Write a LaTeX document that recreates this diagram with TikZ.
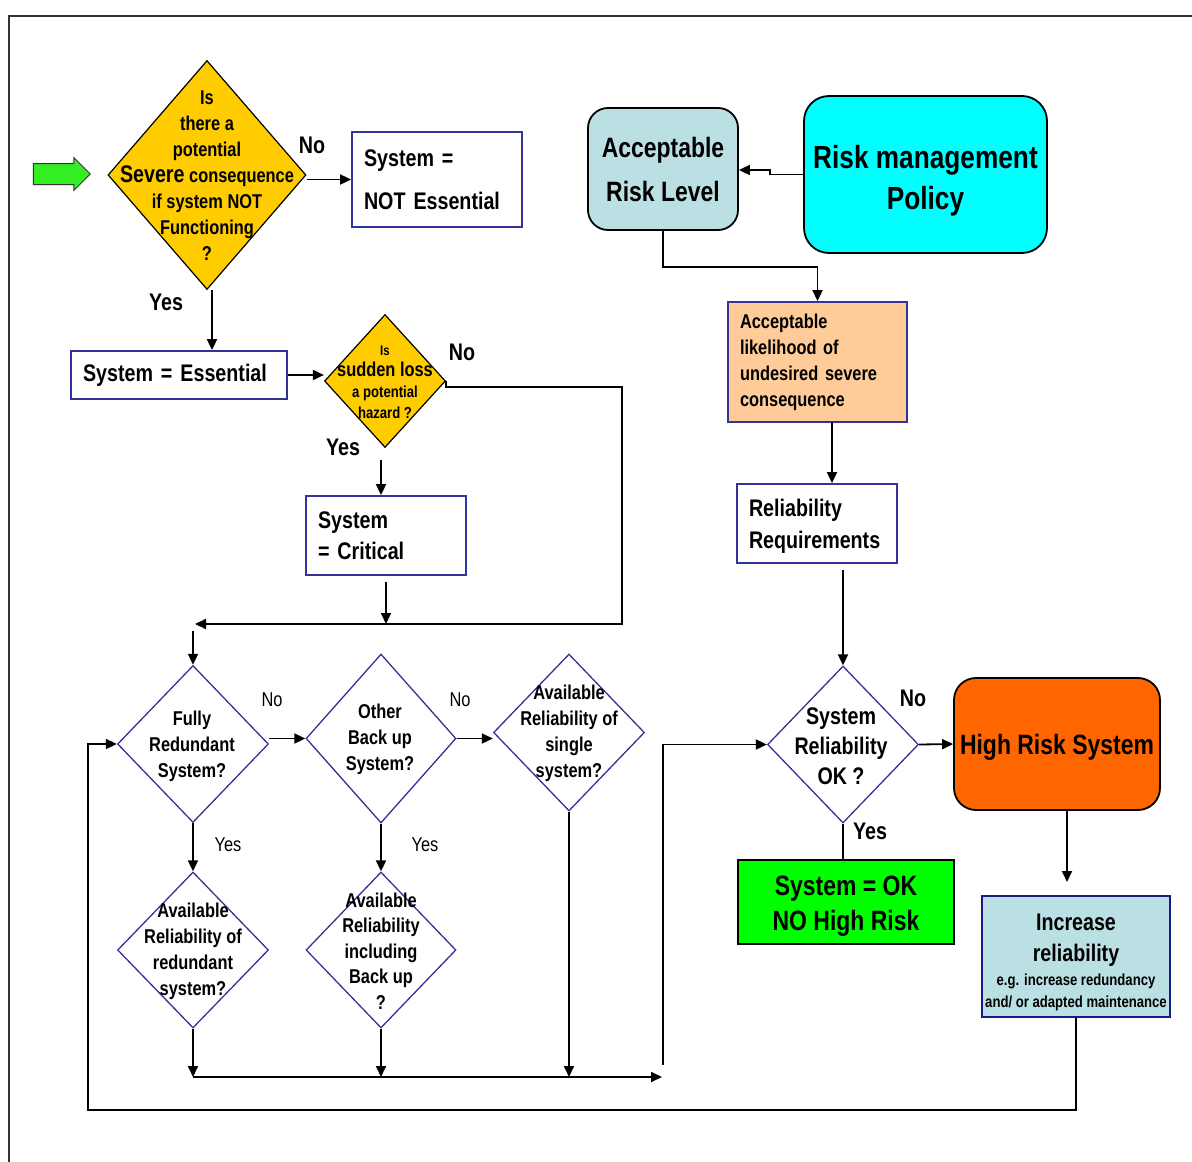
\documentclass[tikz,border=0pt]{standalone}
\usepackage{fontspec}
\setmainfont{Liberation Sans}[FakeStretch=0.82]
\usepackage{tikz}
\usetikzlibrary{shapes.geometric,shapes.arrows,arrows.meta}

\definecolor{gold}{HTML}{FFCC00}
\definecolor{edgeblue}{HTML}{333399}
\definecolor{paleblue}{HTML}{BBE0E3}
\definecolor{peach}{HTML}{FFCC99}
\definecolor{hotorange}{HTML}{FF6600}
\definecolor{okgreen}{HTML}{00FF00}
\definecolor{aqua}{HTML}{00FFFF}
\definecolor{startgreen}{HTML}{33EE22}
\definecolor{deepedge}{HTML}{1A1A80}

\newcommand\setfs[2]{\fontsize{#1}{#2}\selectfont}

\tikzset{
  arr/.style={line width=1.8pt, -{Triangle[length=11pt,width=10pt]}},
  conn/.style={line width=1.8pt},
  ydia/.style={diamond, draw=black, line width=1.2pt, fill=gold, inner sep=0pt},
  qdia/.style={diamond, draw=edgeblue, line width=1.3pt, fill=white, inner sep=0pt},
  dtext/.style={align=center, inner sep=0pt},
  bbox/.style={draw=edgeblue, line width=1.8pt, fill=white, align=left, inner xsep=12pt, inner ysep=0pt},
  rbox/.style={rounded corners=20pt, draw=black, line width=1.8pt, align=center, inner sep=0pt},
  fsize/.style 2 args={font={\bfseries\setfs{#1}{#2}}},
  lab/.style={fsize={24}{28}, inner sep=0pt},
  slab/.style={font={\setfs{20}{24}}, inner sep=0pt}
}

\begin{document}
\begin{tikzpicture}[x=1pt, y=-1pt]
\useasboundingbox (0,0) rectangle (1192,1162);
\draw[line width=1.5pt, black!80] (9,1162) -- (9,16) -- (1192,16);

\node[single arrow, draw=black!80, line width=1pt, fill=startgreen, minimum height=57pt,
      inner sep=10pt, single arrow head extend=6pt] (start) at (56.5,174) {};

% first questions
\node[ydia, minimum width=198, minimum height=229] (q1) at (207,175) {};
\node[dtext, fsize={20}{26}] (q1t) at (207,176) {Is\\there a\\potential\\{\setfs{24}{26}Severe} consequence\\if system NOT\\Functioning\\?};
\node[bbox, fsize={24}{43}, minimum width=170, minimum height=95, text width=146] (ne) at (437,179.5) {System =\\NOT Essential};
\node[bbox, fsize={24}{28}, minimum width=216, minimum height=48, text width=192] (es) at (179,375) {System = Essential};

\node[ydia, minimum width=121, minimum height=133] (q2) at (385,381) {};
\node[dtext, fsize={16}{21}] (q2t) at (385,382) {{\setfs{14}{16}Is}\\{\setfs{20}{22}sudden loss}\\a potential\\hazard ?};
\node[bbox, fsize={24}{31}, minimum width=160, minimum height=79, text width=136] (cr) at (386,535.5) {System\\= Critical};

\node[lab] (no1) at (312,145) {No};
\node[lab] (yes1) at (166,302) {Yes};
\node[lab] (no2) at (462,352) {No};
\node[lab] (yes2) at (343,447) {Yes};

% risk side
\node[rbox, fsize={28}{44}, fill=paleblue, minimum width=150, minimum height=122] (arl) at (663,169) {Acceptable\\Risk Level};
\node[rbox, fsize={32}{41}, fill=aqua, rounded corners=25pt, minimum width=243, minimum height=157] (rm) at (925.5,174.5) {\rule{0pt}{35pt}Risk management\\Policy};
\node[bbox, fsize={20}{26}, fill=peach, minimum width=179, minimum height=120, text width=155] (lk) at (817.5,362) {Acceptable\\likelihood of\\undesired severe\\consequence};
\node[bbox, fsize={24}{32}, minimum width=160, minimum height=79, text width=136] (rr) at (817,523.5) {\rule{0pt}{23pt}Reliability\\Requirements};

% lower questions
\node[qdia, minimum width=151, minimum height=157] (fr) at (193,744) {};
\node[dtext, fsize={20}{26}] (frt) at (192,746) {Fully\\Redundant\\System?};
\node[qdia, minimum width=150, minimum height=169] (ob) at (381,738.5) {};
\node[dtext, fsize={20}{26}] (obt) at (380,739) {Other\\Back up\\System?};
\node[qdia, minimum width=151, minimum height=157] (as) at (569,732.5) {};
\node[dtext, fsize={20}{26}] (ast) at (569,733) {Available\\Reliability of\\single\\system?};
\node[qdia, minimum width=151, minimum height=156] (ar) at (193,950) {};
\node[dtext, fsize={20}{26}] (art) at (193,951) {Available\\Reliability of\\redundant\\system?};
\node[qdia, minimum width=150, minimum height=156] (ab) at (381,950) {};
\node[dtext, fsize={20}{25.5}] (abt) at (381,951) {Available\\Reliability\\including\\Back up\\?};

\node[slab] (no3) at (272,700) {No};
\node[slab] (no4) at (460,700) {No};
\node[slab] (yes3) at (228,845) {Yes};
\node[slab] (yes4) at (425,845) {Yes};

% final check
\node[qdia, minimum width=151, minimum height=157] (sr) at (843,744.5) {};
\node[dtext, fsize={24}{30}] (srt) at (841,746) {System\\Reliability\\OK ?};
\node[rbox, fsize={28}{34}, fill=hotorange, rounded corners=22pt, minimum width=206, minimum height=132] (hr) at (1057,744) {\rule{0pt}{26pt}High Risk System};
\node[draw=black, line width=2.2pt, fill=okgreen, align=center, fsize={28}{35}, inner sep=0pt,
      minimum width=216, minimum height=84] (ok) at (846,902) {\rule{0pt}{28pt}System = OK\\NO High Risk};
\node[draw=deepedge, line width=2.2pt, fill=paleblue, align=center, fsize={24}{22}, inner sep=0pt,
      minimum width=188, minimum height=121] (inc) at (1076,956.5) {\rule{0pt}{28pt}Increase\\[9pt]reliability\\[2pt]{\setfs{16}{22}e.g. increase redundancy}\\{\setfs{16}{22}and/ or adapted maintenance}};
\node[lab] (no5) at (913,698) {No};
\node[lab] (yes5) at (870,831) {Yes};

\coordinate (y1) at (212,290);
\coordinate (y2) at (381,460);
\coordinate (cr1) at (386,582);
\coordinate (n2) at (622,624);
\coordinate (m1) at (195,624);
\coordinate (m2) at (193,631);
\coordinate (b1) at (662,1077);
\coordinate (b2) at (663,1065);
\coordinate (lp) at (88,1110);
\coordinate (j1) at (770,170);
\coordinate (c1) at (832,422);
\coordinate (c2) at (843,570);
\coordinate (h1) at (1067,810);

\draw[arr] (q1.east |- ne.west) -- (ne.west);
\draw[arr] (y1) -- (y1 |- es.north);
\draw[arr] (es.east) -- (q2.west |- es.east);
\draw[arr] (y2) -- (y2 |- cr.north);
\draw[arr] (q2.east) -- ++(0,6) -| (n2) -- (m1);
\draw[arr] (cr1) -- (cr1 |- m1);
\draw[arr] (m2) -- (fr.north);

\draw[arr] (rm.west) -| (j1) -- (arl.east |- j1);
\draw[arr] (arl.south) -- ++(0,36) -| (lk.north);
\draw[arr] (c1) -- (c1 |- rr.north);
\draw[arr] (c2) -- (sr.north);

\draw[arr] (fr.east |- ob.west) -- (ob.west);
\draw[arr] (ob.east) -- (as.west |- ob.east);
\draw[arr] (fr.south) -- (ar.north);
\draw[arr] (ob.south) -- (ab.north);
\draw[arr] (ar.south) -- (ar.south |- b1);
\draw[arr] (ab.south) -- (ab.south |- b1);
\draw[arr] (as.south) -- (as.south |- b1);
\draw[arr] (ar.south |- b1) -- (b1);
\draw[arr] (b2) |- (sr.west);

\draw[arr] (sr.east) -- (hr.west);
\draw[conn] (sr.south) -- (sr.south |- ok.north);
\draw[arr] (h1) -- ++(0,72);
\draw[arr] (inc.south) |- (lp) |- (fr.west);
\end{tikzpicture}
\end{document}
